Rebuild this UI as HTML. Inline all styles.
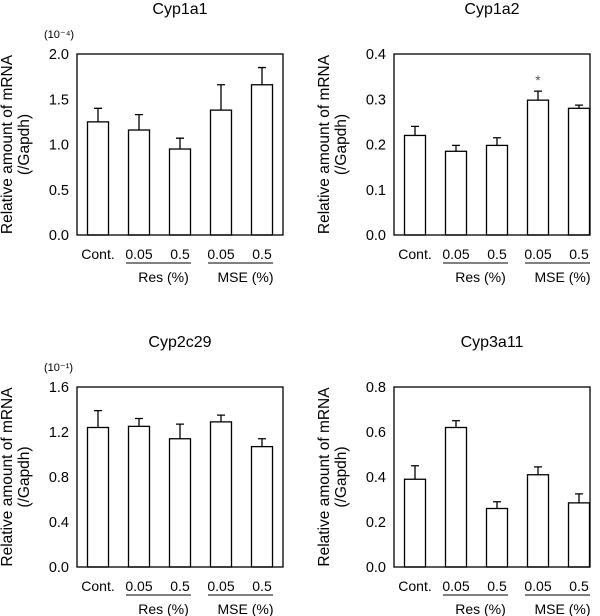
<!DOCTYPE html>
<html><head><meta charset="utf-8"><style>
body{margin:0;background:#fff;}
svg{display:block;font-family:"Liberation Sans",Arial,sans-serif;}
</style></head><body>
<svg id="c" width="600" height="616" xmlns="http://www.w3.org/2000/svg"></svg>
<script>
const categories=["Cont.","0.05","0.5","0.05","0.5"];
const titles=["Cyp1a1","Cyp1a2","Cyp2c29","Cyp3a11"];
const means1a1=[1.25,1.16,0.95,1.38,1.66];
const err1a1=[1.40,1.33,1.07,1.66,1.85];
const means1a2=[0.22,0.185,0.198,0.298,0.28];
const err1a2=[0.24,0.198,0.215,0.318,0.287];
const means2c29=[1.24,1.25,1.14,1.29,1.07];
const err2c29=[1.39,1.32,1.27,1.35,1.14];
const means3a11=[0.39,0.62,0.26,0.41,0.285];
const err3a11=[0.45,0.65,0.29,0.445,0.325];
const ticks1a1=["0.0","0.5","1.0","1.5","2.0"];
const ticks1a2=["0.0","0.1","0.2","0.3","0.4"];
const ticks2c29=["0.0","0.4","0.8","1.2","1.6"];
const ticks3a11=["0.0","0.2","0.4","0.6","0.8"];
const maxes=[2.0,0.4,1.6,0.8];
const exps=["(10⁻⁴)","","(10⁻¹)",""];
const stars=[[],[3],[],[]];

const svg=document.getElementById('c');
const NS="http://www.w3.org/2000/svg";
function mk(tag,attrs,parent,text){const e=document.createElementNS(NS,tag);for(const k in attrs)e.setAttribute(k,attrs[k]);if(text!==undefined)e.textContent=text;(parent||svg).appendChild(e);return e;}

const panels=[
 {L:77,R:283,T:54,B:235,cx0:98,means:means1a1,errs:err1a1,ticks:ticks1a1},
 {L:394,R:590,T:54,B:235,cx0:415,means:means1a2,errs:err1a2,ticks:ticks1a2},
 {L:77,R:283,T:387,B:567,cx0:98,means:means2c29,errs:err2c29,ticks:ticks2c29},
 {L:394,R:590,T:387,B:567,cx0:415,means:means3a11,errs:err3a11,ticks:ticks3a11}
];
panels.forEach((p,pi)=>{
 const g=mk('g',{});
 
 
 const y=v=>p.B-(v/maxes[pi])*(p.B-p.T);
 const x=i=>p.cx0+i*41;
 const mid=(p.L+p.R)/2;
 const t=mk('text',{x:mid,y:p.T-40,'text-anchor':'middle','font-size':16},g,titles[pi]);
 
 if(exps[pi]){const e=mk('text',{x:p.L-33,y:p.T-16,'font-size':11},g,exps[pi]);}
 const yl=mk('text',{transform:`translate(${p.L-65},${(p.T+p.B)/2}) rotate(-90)`,'text-anchor':'middle','font-size':15.5},g);
 
 mk('tspan',{x:0,dy:0},yl,'Relative amount of mRNA');
 mk('tspan',{x:0,dy:17},yl,'(/Gapdh)');
 p.ticks.forEach((lab,i)=>{
  const v=maxes[pi]*i/(p.ticks.length-1);
  const tl=mk('text',{x:p.L-8,y:y(v)+5,'text-anchor':'end','font-size':14.5},g,lab);
  
 });
 p.means.forEach((m,i)=>{
  const cx=x(i);
  const eb=mk('path',{d:`M${cx},${y(m)}V${y(p.errs[i])}M${cx-4},${y(p.errs[i])}H${cx+4}`,stroke:'#000','stroke-width':1.3,fill:'none'},g);
  
  const b=mk('rect',{x:cx-10.5,y:y(m),width:21,height:p.B-y(m),fill:'#fff',stroke:'#000','stroke-width':1.3},g);
  
  const cl=mk('text',{x:cx,y:p.B+24,'text-anchor':'middle','font-size':14},g,categories[i]);
  
 });
 stars[pi].forEach(i=>{const s=mk('text',{x:x(i),y:y(p.errs[i])-6,'text-anchor':'middle','font-size':14,fill:'#555'},g,'*');});
 const box=mk('rect',{x:p.L,y:p.T,width:p.R-p.L,height:p.B-p.T,fill:'none',stroke:'#000','stroke-width':1.3},g);
 
 [[1,2,'Res (%)'],[3,4,'MSE (%)']].forEach(([a,b,lab])=>{
  const ln=mk('line',{x1:x(a)-13,x2:x(b)+11,y1:p.B+28,y2:p.B+28,stroke:'#000','stroke-width':1},g);
  
  const gl=mk('text',{x:(x(a)+x(b))/2+4,y:p.B+47,'text-anchor':'middle','font-size':14},g,lab);
  
 });
});
</script>
</body></html>
